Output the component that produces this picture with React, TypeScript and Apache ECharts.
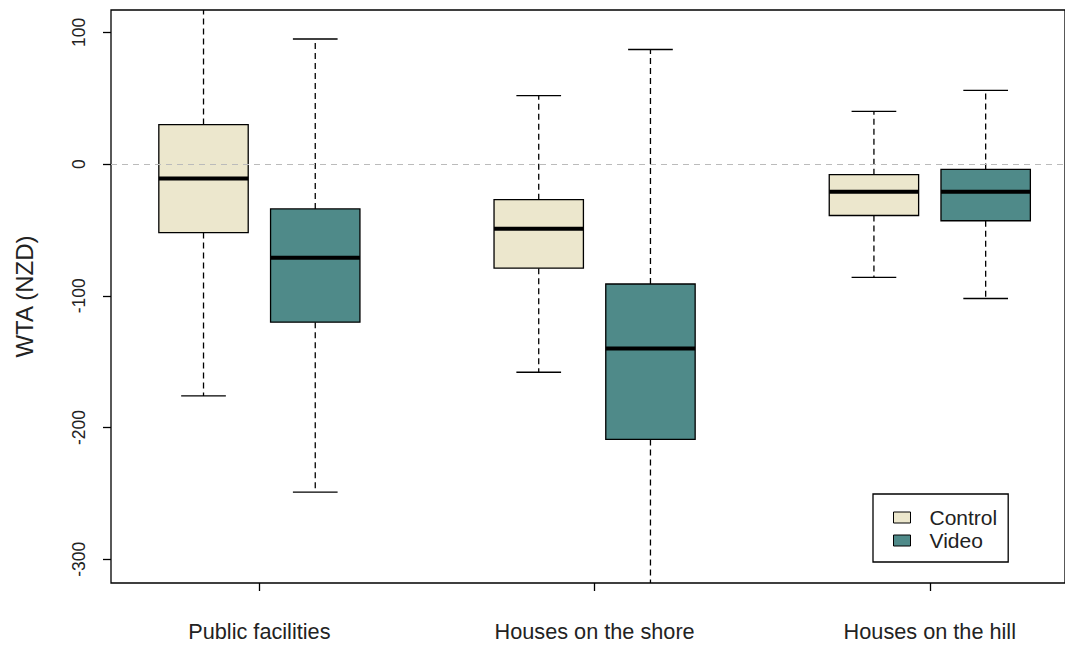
import React, { useEffect, useRef } from "react";
import * as echarts from "echarts";

const categories = ["Public facilities", "Houses on the shore", "Houses on the hill"];
const groupNames = ["Control", "Video"];
const groupColors = ["#ECE7CD", "#4F8A89"];
// [low whisker, Q1, median, Q3, high whisker]
const controlStats = [
  [-176, -52, -11, 30, 130],
  [-158, -79, -49, -27, 52],
  [-86, -39, -21, -8, 40],
];
const videoStats = [
  [-249, -120, -71, -34, 95],
  [-340, -209, -140, -91, 87],
  [-102, -43, -21, -4, 56],
];
const controlPositions = [1, 4, 7];
const videoPositions = [2, 5, 8];
const categoryPositions = [1.5, 4.5, 7.5];
const yTicks = [-300, -200, -100, 0, 100];
const yMin = -318;
const yMax = 117;
const xMin = 0.172;
const xMax = 8.71;

const FONT = "'Liberation Sans', Arial, sans-serif";

function renderBox(params: any, api: any) {
  const x = api.value(0);
  const low = api.value(1);
  const q1 = api.value(2);
  const med = api.value(3);
  const q3 = api.value(4);
  const high = api.value(5);
  const boxW = 0.8;
  const capW = 0.4;
  const pTop = api.coord([x, q3]);
  const pBot = api.coord([x, q1]);
  const pHigh = api.coord([x, high]);
  const pLow = api.coord([x, low]);
  const pMed = api.coord([x, med]);
  const left = api.coord([x - boxW / 2, q3])[0];
  const right = api.coord([x + boxW / 2, q3])[0];
  const capL = api.coord([x - capW / 2, q3])[0];
  const capR = api.coord([x + capW / 2, q3])[0];
  const color = api.visual("color");
  const dashed = { stroke: "#000", lineWidth: 1.3, lineDash: [6, 4] };
  const solid = { stroke: "#000", lineWidth: 1.3 };
  return {
    type: "group",
    children: [
      { type: "line", shape: { x1: pTop[0], y1: pTop[1], x2: pHigh[0], y2: pHigh[1] }, style: dashed },
      { type: "line", shape: { x1: pBot[0], y1: pBot[1], x2: pLow[0], y2: pLow[1] }, style: dashed },
      { type: "line", shape: { x1: capL, y1: pHigh[1], x2: capR, y2: pHigh[1] }, style: solid },
      { type: "line", shape: { x1: capL, y1: pLow[1], x2: capR, y2: pLow[1] }, style: solid },
      {
        type: "rect",
        shape: { x: left, y: pTop[1], width: right - left, height: pBot[1] - pTop[1] },
        style: { fill: color, stroke: "#000", lineWidth: 1.3 },
      },
      { type: "line", shape: { x1: left, y1: pMed[1], x2: right, y2: pMed[1] }, style: { stroke: "#000", lineWidth: 4 } },
    ],
  };
}

export default function App() {
  const ref = useRef<HTMLDivElement>(null);
  useEffect(() => {
    if (!ref.current) return;
    const chart = echarts.init(ref.current, null, { renderer: "svg" });
    const mk = (name: string, color: string, pos: number[], stats: number[][]) => ({
      name,
      type: "custom",
      clip: true,
      z: 3,
      itemStyle: { color, borderColor: "#000", borderWidth: 1 },
      renderItem: renderBox,
      encode: { x: 0, y: [1, 2, 3, 4, 5] },
      data: pos.map((p, i) => [p, ...stats[i]]),
    });
    chart.setOption({
      animation: false,
      backgroundColor: "#fff",
      grid: { left: 111, top: 10, right: 0, bottom: 63, show: true, borderColor: "#000", borderWidth: 1.3 },
      xAxis: {
        type: "value",
        min: xMin,
        max: xMax,
        axisLine: { show: false, onZero: false },
        splitLine: { show: false },
        axisTick: { show: true, customValues: categoryPositions, length: 8, lineStyle: { color: "#000", width: 1.3 } },
        axisLabel: {
          customValues: categoryPositions,
          margin: 37,
          fontSize: 21.7,
          fontFamily: FONT,
          color: "#222",
          formatter: (v: number) => categories[Math.round((v - 1.5) / 3)] ?? "",
        },
      },
      yAxis: {
        type: "value",
        min: yMin,
        max: yMax,
        axisLine: { show: false, onZero: false },
        splitLine: { show: false },
        axisTick: { show: true, customValues: yTicks, length: 8, lineStyle: { color: "#000", width: 1.3 } },
        axisLabel: {
          customValues: yTicks,
          rotate: 90,
          margin: 23,
          fontSize: 17.5,
          fontFamily: FONT,
          color: "#222",
        },
        name: "WTA (NZD)",
        nameLocation: "middle",
        nameGap: 75,
        nameTextStyle: { fontSize: 24, fontFamily: FONT, color: "#222" },
      },
      legend: {
        left: 873,
        top: 494,
        orient: "vertical",
        data: groupNames,
        icon: "rect",
        itemWidth: 17,
        itemHeight: 11,
        itemGap: 2,
        padding: [13, 11, 11, 20],
        backgroundColor: "#fff",
        borderColor: "#000",
        borderWidth: 1.3,
        borderRadius: 0,
        selectedMode: false,
        itemStyle: { borderColor: "#000", borderWidth: 1 },
        textStyle: { fontSize: 21, fontFamily: FONT, color: "#222", padding: [0, 0, 0, 14], lineHeight: 18 },
      },
      series: [
        {
          name: "zero",
          type: "line",
          data: [],
          z: 1,
          markLine: {
            silent: true,
            symbol: "none",
            label: { show: false },
            lineStyle: { type: [6, 5], color: "#bbbbbb", width: 1.2 },
            data: [{ yAxis: 0 }],
          },
        },
        mk(groupNames[0], groupColors[0], controlPositions, controlStats),
        mk(groupNames[1], groupColors[1], videoPositions, videoStats),
      ],
    });
    return () => chart.dispose();
  }, []);
  return <div ref={ref} style={{ position: "absolute", left: 0, top: 0, width: 1065, height: 646 }} />;
}
